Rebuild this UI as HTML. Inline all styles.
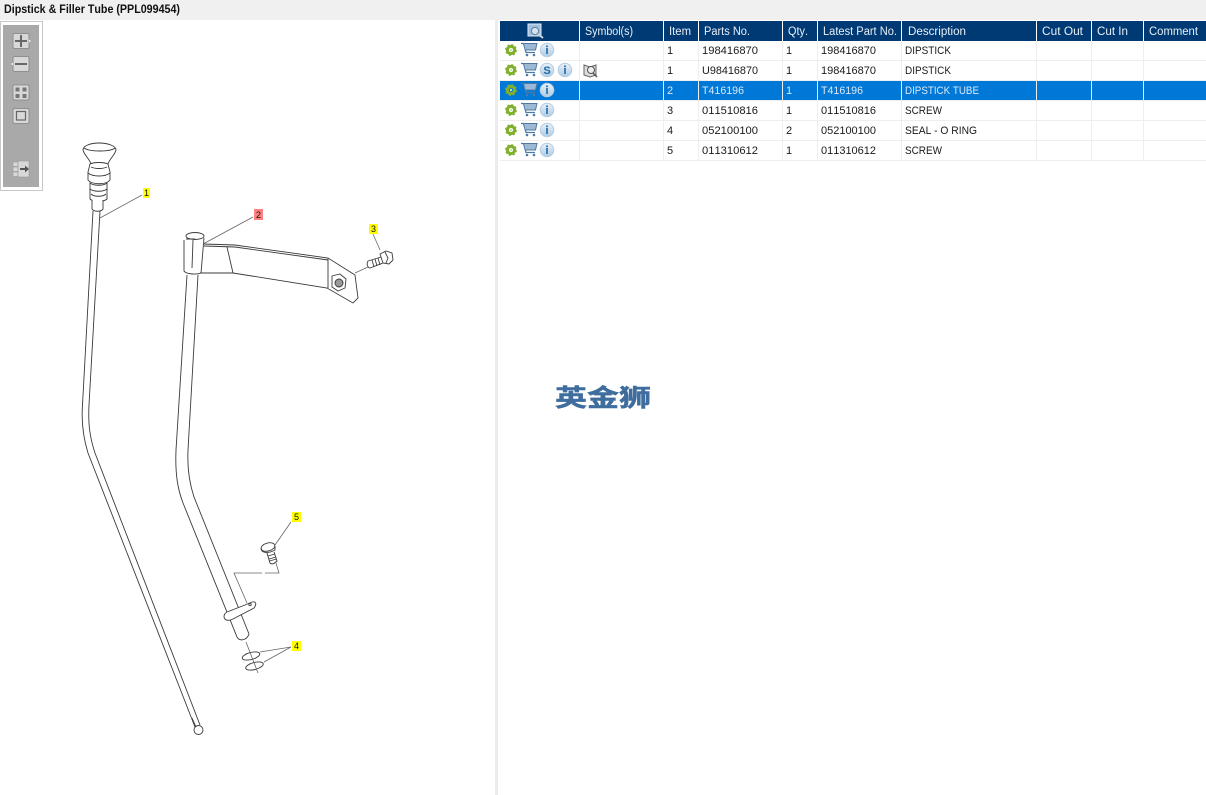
<!DOCTYPE html>
<html><head><meta charset="utf-8"><title>Dipstick &amp; Filler Tube</title>
<style>
html,body{margin:0;padding:0;background:#fff;width:1206px;height:795px;overflow:hidden}
svg{display:block}
text{font-family:"Liberation Sans","DejaVu Sans",sans-serif;font-kerning:none}
.h{fill:#e8eef5;font-size:11.5px}
.c{fill:#1a1a1a;font-size:11px}
.w{fill:#dbe9f8;font-size:11px}
.d path,.d line,.d ellipse,.d circle,.d polygon{fill:none;stroke:#3a3a3a;stroke-width:.9}
.d .f{fill:#fff}
.d .g{fill:#999}
.l{stroke:#666;stroke-width:.8;fill:none}
.n{font-size:9px;fill:#111;text-anchor:middle}
</style></head><body>
<svg width="1206" height="795" viewBox="0 0 1206 795" xmlns="http://www.w3.org/2000/svg">
<defs>
<linearGradient id="ig" x1="0" y1="0" x2="0" y2="1"><stop offset="0" stop-color="#eaf2f9"/><stop offset="1" stop-color="#aecbe4"/></linearGradient>
<g id="gear"><circle r="3.600" fill="none" stroke="#7fb02d" stroke-width="3"/><circle r="5.200" fill="none" stroke="#7fb02d" stroke-width="1.400" stroke-dasharray="2.200 1.900"/><circle r="1.200" fill="#cfe39c"/></g>
<g id="cart" fill="none" stroke="#4d7ba8"><path d="M0 -5.500H2.500L5 3.500H14" stroke-width="1.300"/><path d="M3 -5.500H16L14.500 1H4.500" fill="#9db9d4" stroke-width="1"/><circle cx="6" cy="6" r="1.300" fill="#4d7ba8" stroke="none"/><circle cx="13" cy="6" r="1.300" fill="#4d7ba8" stroke="none"/></g>
<g id="info"><circle r="6.800" fill="url(#ig)" stroke="#b5cde2"/><rect x="-1" y="-2" width="2" height="6" fill="#3f7fb5"/><rect x="-1" y="-4.600" width="2" height="1.800" fill="#3f7fb5"/></g>
<g id="btn"><rect x="-8" y="-7.500" width="16" height="15" rx="1.500" fill="#d8d8d8" stroke="#8f8f8f"/></g>
</defs>

<!-- title -->
<rect x="0" y="0" width="1206" height="20" fill="#f0f0f0"/>
<text x="4" y="13" font-size="11.500" font-weight="bold" fill="#111" textLength="176" lengthAdjust="spacingAndGlyphs">Dipstick &amp; Filler Tube (PPL099454)</text>

<!-- divider -->
<rect x="495" y="20" width="3" height="775" fill="#ececec"/>

<!-- toolbar -->
<rect x="0.500" y="21.500" width="42" height="169" fill="#fff" stroke="#c8c8c8"/>
<rect x="3" y="25" width="36" height="162" fill="#a9a9a9"/>
<use href="#btn" x="21" y="41"/><path d="M15 41H27M21 35V47" stroke="#666" stroke-width="2"/><path d="M29 39.500L31 41L29 42.500Z" fill="#eee"/>
<use href="#btn" x="21" y="64"/><path d="M15 64H27" stroke="#666" stroke-width="2"/><path d="M13 62.500L11 64L13 65.500Z" fill="#eee"/>
<use href="#btn" x="21" y="92.500"/><g fill="#777"><rect x="15.500" y="87.500" width="4" height="4"/><rect x="22.500" y="87.500" width="4" height="4"/><rect x="15.500" y="94" width="4" height="4"/><rect x="22.500" y="94" width="4" height="4"/></g>
<use href="#btn" x="21" y="116"/><rect x="16.500" y="111.500" width="9" height="8.500" fill="none" stroke="#666" stroke-width="1.200"/>
<g fill="#d8d8d8" stroke="#999" stroke-width=".6"><rect x="13" y="162" width="5" height="4.500"/><rect x="13" y="167" width="5" height="4.500"/><rect x="13" y="172" width="5" height="4.500"/><rect x="18" y="161" width="11" height="16"/></g>
<path d="M20 169H26" stroke="#555" stroke-width="2"/><path d="M25 165.500L29 169L25 172.500Z" fill="#555"/>

<!-- dipstick -->
<g class="d">
<path d="M93 211L82.500 405C81 425 84 440 88 453L195 727"/>
<path d="M100 211L89 405C88 425 90 438 95 453L200 725"/>
<path class="f" d="M83 150C83 146 90 143 99 143C108 143 116 146 116 150C115 155 110 158 108 164H91C89 158 84 155 83 150Z"/>
<path d="M84 148C90 152 110 152 115 148"/>
<path class="f" d="M90 164C94 162 104 162 108 164L110 172V180C106 185 92 185 88 180V172Z"/>
<path d="M88 173C93 177 105 177 110 173M91 167C95 169 103 169 107 167"/>
<path class="f" d="M90 183V199C93 202 104 202 107 199V183C103 186 94 186 90 183Z"/>
<path d="M90 189C94 192 103 192 107 189M91 194C94 197 103 197 106 194"/>
<path class="f" d="M92 200V209C94 212 101 212 103 209V200"/>
<circle cx="198.500" cy="730" r="4.500"/>
<path d="M192 718L196 727" stroke="#999"/>
</g>

<!-- tube and bracket -->
<g class="d">
<ellipse cx="195" cy="236" rx="9" ry="3.500"/>
<path d="M184 240V271C186 274 196 275 201 273L204 238"/>
<path d="M186 239L195 239M193 240L192 268"/>
<path d="M187 275L176 450C175 475 178 490 183 503L237 637"/>
<path d="M198 275L188 450C187 470 190 485 194 497L249 634"/>
<path d="M237 637C240 642 247 640 249 634"/>
<path d="M203 244L235 245L328 258L355 275L358 298L353 303L327 288L233 273L200 273"/>
<path d="M204 246L235 247L328 260"/>
<path d="M227 247L233 273M328 258V288"/>
<polygon points="332,276 340,274 346,279 345,288 338,291 332,287"/>
<circle class="g" cx="339" cy="283" r="4"/>
<!-- screw 3 -->
<path d="M368 261L381 257M370 268L383 263M368 261C366 264 368 268 370 268"/>
<path d="M372 260L374 267M375 259L377 266M378 258L380 265"/>
<polygon class="f" points="380,254 386,251 392,253 393,260 389,264 383,263"/>
<path d="M385 252L388 258L386 263"/>
<!-- screw 5 -->
<path d="M267 553L270 563C272 565 275 563 277 561L274 552"/>
<path d="M268 556L275 554M269 559L276 557M269.500 561L276.500 559"/>
<ellipse class="f" cx="268" cy="547" rx="7" ry="4" transform="rotate(-15 268 547)"/>
<path d="M261 548C261 553 268 554 275 550V546"/>
<!-- flange -->
<path class="f" d="M224 617C225 621 229 621 233 619L254 608C257 604 256 601 252 602L245 605L227 612C225 613 224 615 224 617Z"/>
<circle cx="250" cy="604.500" r="1.200"/>
<!-- washers -->
<ellipse cx="251" cy="656" rx="9" ry="3.500" transform="rotate(-15 251 656)" stroke-width="1.500"/>
<ellipse cx="254.500" cy="666" rx="9" ry="3.500" transform="rotate(-15 254.500 666)" stroke-width="1.500"/>
</g>

<!-- connectors -->
<g class="l">
<path d="M100 218L142 195"/>
<path d="M203 244L253 217"/>
<path d="M380 250L373 234"/>
<path d="M355 273L368 267"/>
<path d="M275 545L291 522"/>
<path d="M276 563L279 573H265M262 573H234L247 603"/>
<path d="M246 642L258 673"/>
<path d="M291 647L260 652M291 647L264 662"/>
</g>
<g>
<rect x="143" y="188" width="7" height="10" fill="#ffff00"/><text class="n" x="146.500" y="196">1</text>
<rect x="254" y="209" width="9" height="11" fill="#ff8080"/><text class="n" x="258.500" y="218">2</text>
<rect x="369" y="224" width="9" height="10" fill="#ffff00"/><text class="n" x="373.500" y="232">3</text>
<rect x="292" y="641" width="9" height="10" fill="#ffff00"/><text class="n" x="296.500" y="649">4</text>
<rect x="292" y="512" width="9" height="10" fill="#ffff00"/><text class="n" x="296.500" y="520">5</text>
</g>

<!-- table header -->
<rect x="500" y="21" width="706" height="20" fill="#003a75"/>
<g stroke="#fff" stroke-width="1"><path d="M579.500 21V41M663.500 21V41M698.500 21V41M782.500 21V41M817.500 21V41M901.500 21V41M1036.500 21V41M1091.500 21V41M1143.500 21V41"/></g>
<rect x="528" y="24" width="13" height="12" fill="#9fc0de" stroke="#dfeaf5"/><circle cx="535" cy="31" r="3.600" fill="#d7e3ee" stroke="#5a7d9e"/><path d="M538 34L543 38" stroke="#c6d3e0" stroke-width="2"/>
<text class="h" x="585" y="35" textLength="48" lengthAdjust="spacingAndGlyphs">Symbol(s)</text>
<text class="h" x="669" y="35" textLength="22" lengthAdjust="spacingAndGlyphs">Item</text>
<text class="h" x="704" y="35" textLength="46" lengthAdjust="spacingAndGlyphs">Parts No.</text>
<text class="h" x="788" y="35" textLength="20" lengthAdjust="spacingAndGlyphs">Qty.</text>
<text class="h" x="823" y="35" textLength="74" lengthAdjust="spacingAndGlyphs">Latest Part No.</text>
<text class="h" x="908" y="35" textLength="58" lengthAdjust="spacingAndGlyphs">Description</text>
<text class="h" x="1042" y="35" textLength="41" lengthAdjust="spacingAndGlyphs">Cut Out</text>
<text class="h" x="1097" y="35" textLength="31" lengthAdjust="spacingAndGlyphs">Cut In</text>
<text class="h" x="1149" y="35" textLength="49" lengthAdjust="spacingAndGlyphs">Comment</text>

<!-- selected -->
<rect x="500" y="81" width="706" height="19" fill="#0078d7"/>

<!-- grid -->
<g stroke="#eeeeee" stroke-width="1" fill="none">
<path d="M500 60.500H1206M500 80.500H1206M500 100.500H1206M500 120.500H1206M500 140.500H1206M500 160.500H1206"/>
<path d="M579.500 41V161M663.500 41V161M698.500 41V161M782.500 41V161M817.500 41V161M901.500 41V161M1036.500 41V161M1091.500 41V161M1143.500 41V161"/>
</g>

<!-- icons -->
<use href="#gear" x="511" y="50"/><use href="#cart" x="521" y="49"/><use href="#info" x="547" y="50"/>
<use href="#gear" x="511" y="70"/><use href="#cart" x="521" y="69"/>
<circle cx="547" cy="70" r="6.800" fill="url(#ig)" stroke="#b5cde2"/><text x="547" y="74" font-size="11" font-weight="bold" fill="#1f6aa5" text-anchor="middle">S</text>
<use href="#info" x="565" y="70"/>
<path d="M584 65L590 67L596 65V75L590 77L584 75Z" fill="#ddd" stroke="#666"/><circle cx="591" cy="70" r="3.500" fill="#eee" stroke="#555"/><path d="M593 73L597 77" stroke="#555" stroke-width="1.500"/>
<use href="#gear" x="511" y="90"/><use href="#cart" x="521" y="89"/><use href="#info" x="547" y="90"/>
<use href="#gear" x="511" y="110"/><use href="#cart" x="521" y="109"/><use href="#info" x="547" y="110"/>
<use href="#gear" x="511" y="130"/><use href="#cart" x="521" y="129"/><use href="#info" x="547" y="130"/>
<use href="#gear" x="511" y="150"/><use href="#cart" x="521" y="149"/><use href="#info" x="547" y="150"/>

<!-- rows -->
<g>
<text class="c" x="667" y="54">1</text><text class="c" x="702" y="54" textLength="56" lengthAdjust="spacingAndGlyphs">198416870</text><text class="c" x="786" y="54">1</text><text class="c" x="821" y="54" textLength="55" lengthAdjust="spacingAndGlyphs">198416870</text><text class="c" x="905" y="54" textLength="46" lengthAdjust="spacingAndGlyphs">DIPSTICK</text>
<text class="c" x="667" y="74">1</text><text class="c" x="702" y="74" textLength="56" lengthAdjust="spacingAndGlyphs">U98416870</text><text class="c" x="786" y="74">1</text><text class="c" x="821" y="74" textLength="55" lengthAdjust="spacingAndGlyphs">198416870</text><text class="c" x="905" y="74" textLength="46" lengthAdjust="spacingAndGlyphs">DIPSTICK</text>
<text class="w" x="667" y="94">2</text><text class="w" x="702" y="94" textLength="42" lengthAdjust="spacingAndGlyphs">T416196</text><text class="w" x="786" y="94">1</text><text class="w" x="821" y="94" textLength="42" lengthAdjust="spacingAndGlyphs">T416196</text><text class="w" x="905" y="94" textLength="74" lengthAdjust="spacingAndGlyphs">DIPSTICK TUBE</text>
<text class="c" x="667" y="114">3</text><text class="c" x="702" y="114" textLength="56" lengthAdjust="spacingAndGlyphs">011510816</text><text class="c" x="786" y="114">1</text><text class="c" x="821" y="114" textLength="55" lengthAdjust="spacingAndGlyphs">011510816</text><text class="c" x="905" y="114" textLength="37" lengthAdjust="spacingAndGlyphs">SCREW</text>
<text class="c" x="667" y="134">4</text><text class="c" x="702" y="134" textLength="56" lengthAdjust="spacingAndGlyphs">052100100</text><text class="c" x="786" y="134">2</text><text class="c" x="821" y="134" textLength="55" lengthAdjust="spacingAndGlyphs">052100100</text><text class="c" x="905" y="134" textLength="72" lengthAdjust="spacingAndGlyphs">SEAL - O RING</text>
<text class="c" x="667" y="154">5</text><text class="c" x="702" y="154" textLength="56" lengthAdjust="spacingAndGlyphs">011310612</text><text class="c" x="786" y="154">1</text><text class="c" x="821" y="154" textLength="55" lengthAdjust="spacingAndGlyphs">011310612</text><text class="c" x="905" y="154" textLength="37" lengthAdjust="spacingAndGlyphs">SCREW</text>
</g>

<!-- logo -->
<text x="555" y="406" font-size="24" font-weight="bold" fill="#3f6d9e" stroke="#3f6d9e" stroke-width=".5" style="font-family:'Liberation Sans','Noto Sans CJK SC',sans-serif" textLength="96" lengthAdjust="spacingAndGlyphs">英金狮</text>
</svg>
</body></html>
